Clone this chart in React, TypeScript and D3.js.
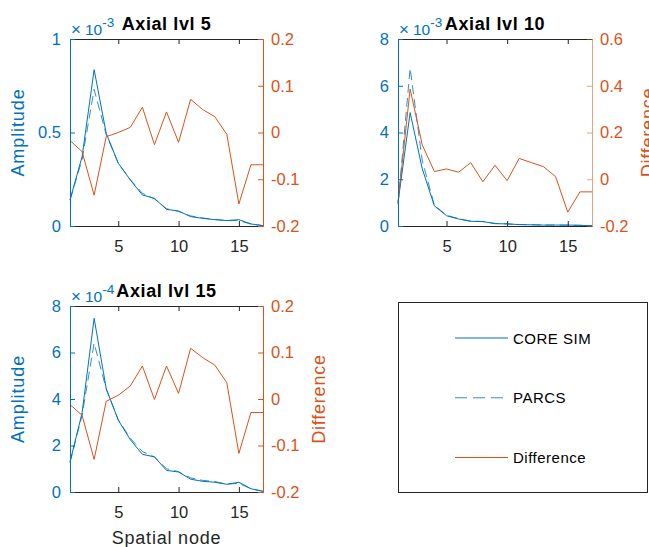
import React, { useEffect, useRef } from 'react';
import * as d3 from 'd3';

// spatial nodes along x
const nodes = [1, 2, 3, 4, 5, 6, 7, 8, 9, 10, 11, 12, 13, 14, 15, 16, 17];
const xTicks = [5, 10, 15];

// axial level 5 (amplitude in units of 1e-3)
const coreSim5 = [0.14, 0.37, 0.836, 0.496, 0.336, 0.246, 0.166, 0.148, 0.089, 0.08, 0.05, 0.041, 0.034, 0.029, 0.034, 0.011, 0.002];
const parcs5 = [0.138, 0.355, 0.73, 0.49, 0.335, 0.248, 0.175, 0.145, 0.093, 0.078, 0.054, 0.043, 0.035, 0.029, 0.029, 0.01, 0.002];
const diff5 = [-0.017, -0.041, -0.134, -0.009, 0.0, 0.011, 0.054, -0.026, 0.044, -0.021, 0.071, 0.049, 0.034, -0.004, -0.153, -0.069, -0.069];

// axial level 10 (amplitude in units of 1e-3)
const coreSim10 = [1.0, 4.85, 2.45, 0.86, 0.44, 0.3, 0.2, 0.19, 0.1, 0.09, 0.06, 0.05, 0.04, 0.04, 0.04, 0.03, 0.01];
const parcs10 = [0.92, 6.75, 2.8, 0.89, 0.46, 0.31, 0.21, 0.19, 0.11, 0.09, 0.065, 0.054, 0.042, 0.04, 0.035, 0.028, 0.01];
const diff10 = [-0.1, 0.386, 0.147, 0.033, 0.044, 0.03, 0.071, -0.011, 0.06, -0.006, 0.089, 0.071, 0.054, 0.011, -0.141, -0.054, -0.054];

// axial level 15 (amplitude in units of 1e-4)
const coreSim15 = [1.29, 3.4, 7.47, 4.45, 3.09, 2.25, 1.62, 1.51, 0.93, 0.86, 0.55, 0.46, 0.42, 0.33, 0.42, 0.14, 0.03];
const parcs15 = [1.27, 3.3, 6.4, 4.43, 3.11, 2.31, 1.74, 1.51, 1.0, 0.87, 0.61, 0.5, 0.45, 0.34, 0.37, 0.14, 0.03];
const diff15 = [-0.012, -0.035, -0.13, -0.005, 0.008, 0.028, 0.071, -0.001, 0.071, 0.012, 0.109, 0.089, 0.073, 0.035, -0.117, -0.029, -0.029];

const ampTicks5 = [0, 0.5, 1];
const ampTicks10 = [0, 2, 4, 6, 8];
const ampTicks15 = [0, 2, 4, 6, 8];
const diffTicks5 = [-0.2, -0.1, 0, 0.1, 0.2];
const diffTicks10 = [-0.2, 0, 0.2, 0.4, 0.6];
const diffTicks15 = [-0.2, -0.1, 0, 0.1, 0.2];

const legendLabels = ['CORE SIM', 'PARCS', 'Difference'];

const BLUE = '#0072BD';
const ORANGE = '#D95319';
const DARK = '#262626';
const FONT = '"Liberation Sans", Arial, sans-serif';

const panels = [
  { title: 'Axial lvl 5', exp: '-3', core: coreSim5, parcs: parcs5, diff: diff5, ampTicks: ampTicks5, diffTicks: diffTicks5,
    left: 70, right: 263, top: 39, bottom: 226, ampLabel: true, diffLabel: false, xLabel: false, fadeRight: false },
  { title: 'Axial lvl 10', exp: '-3', core: coreSim10, parcs: parcs10, diff: diff10, ampTicks: ampTicks10, diffTicks: diffTicks10,
    left: 398, right: 592, top: 39, bottom: 226, ampLabel: false, diffLabel: true, xLabel: false, fadeRight: true },
  { title: 'Axial lvl 15', exp: '-4', core: coreSim15, parcs: parcs15, diff: diff15, ampTicks: ampTicks15, diffTicks: diffTicks15,
    left: 70, right: 263, top: 306, bottom: 492, ampLabel: true, diffLabel: true, xLabel: true, fadeRight: false },
];

const fmt = (d) => (d === 0 ? '0' : String(d));

function drawPanel(svg, p) {
  const x = d3.scaleLinear().domain([1, 17]).range([p.left, p.right]);
  const yL = d3.scaleLinear().domain([0, p.ampTicks[p.ampTicks.length - 1]]).range([p.bottom, p.top]);
  const yR = d3.scaleLinear().domain([p.diffTicks[0], p.diffTicks[p.diffTicks.length - 1]]).range([p.bottom, p.top]);

  const g = svg.append('g');

  const ampLine = (vals) => d3.line().x((d, i) => x(nodes[i])).y((d) => yL(d))(vals);
  const diffLine = d3.line().x((d, i) => x(nodes[i])).y((d) => yR(d));

  g.append('path').attr('d', ampLine(p.core)).attr('fill', 'none').attr('stroke', BLUE).attr('stroke-width', 1);
  g.append('path').attr('d', ampLine(p.parcs)).attr('fill', 'none').attr('stroke', BLUE).attr('stroke-width', 1)
    .attr('stroke-dasharray', '9,5').attr('stroke-opacity', 0.8);
  g.append('path').attr('d', diffLine(p.diff)).attr('fill', 'none').attr('stroke', ORANGE).attr('stroke-width', 1);

  const style = (sel, color) => {
    sel.attr('font-family', FONT).attr('font-size', 16.5).attr('color', color);
    sel.selectAll('line, path').attr('stroke-width', 1);
  };

  g.append('g').attr('transform', `translate(0,${p.bottom})`)
    .call(d3.axisBottom(x).tickValues(xTicks).tickSizeInner(-5).tickSizeOuter(0).tickPadding(14))
    .call((s) => style(s, DARK));
  g.append('g').attr('transform', `translate(0,${p.top})`)
    .call(d3.axisTop(x).tickValues(xTicks).tickSizeInner(-5).tickSizeOuter(0).tickFormat(() => ''))
    .call((s) => style(s, DARK));
  g.append('g').attr('transform', `translate(${p.left},0)`)
    .call(d3.axisLeft(yL).tickValues(p.ampTicks).tickSizeInner(-5).tickSizeOuter(0).tickPadding(9).tickFormat(fmt))
    .call((s) => style(s, BLUE));
  const rAxis = g.append('g').attr('transform', `translate(${p.right},0)`)
    .call(d3.axisRight(yR).tickValues(p.diffTicks).tickSizeInner(-5).tickSizeOuter(0).tickPadding(8).tickFormat(fmt))
    .call((s) => style(s, ORANGE));
  if (p.fadeRight) rAxis.selectAll('line, path').attr('stroke-opacity', 0.55);

  // exponent
  const ex = g.append('text').attr('font-family', FONT).attr('fill', BLUE);
  ex.append('tspan').attr('x', p.left + 1).attr('y', p.top - 4).attr('font-size', 17).text('×');
  ex.append('tspan').attr('x', p.left + 15).attr('font-size', 15.5).text('10');
  ex.append('tspan').attr('dy', -8).attr('font-size', 13.5).text(p.exp);

  g.append('text').attr('x', (p.left + p.right) / 2).attr('y', p.top - 9)
    .attr('text-anchor', 'middle').attr('font-family', FONT).attr('font-size', 18).attr('font-weight', 'bold')
    .attr('letter-spacing', 0.6).attr('fill', '#000').text(p.title);

  const midY = (p.top + p.bottom) / 2;
  if (p.ampLabel) {
    g.append('text').attr('transform', `translate(${p.left - 46},${midY}) rotate(-90)`)
      .attr('text-anchor', 'middle').attr('font-family', FONT).attr('font-size', 18).attr('letter-spacing', 0.9)
      .attr('fill', BLUE).text('Amplitude');
  }
  if (p.diffLabel) {
    g.append('text').attr('transform', `translate(${p.right + 62},${midY}) rotate(-90)`)
      .attr('text-anchor', 'middle').attr('font-family', FONT).attr('font-size', 18).attr('letter-spacing', 0.8)
      .attr('fill', ORANGE).text('Difference');
  }
  if (p.xLabel) {
    g.append('text').attr('x', (p.left + p.right) / 2).attr('y', p.bottom + 52)
      .attr('text-anchor', 'middle').attr('font-family', FONT).attr('font-size', 18).attr('letter-spacing', 0.8)
      .attr('fill', DARK).text('Spatial node');
  }
}

function drawLegend(svg) {
  const g = svg.append('g');
  g.append('rect').attr('x', 398.5).attr('y', 302.5).attr('width', 249).attr('height', 190)
    .attr('fill', '#fff').attr('stroke', DARK).attr('stroke-width', 1);
  const rowY = d3.scalePoint().domain(legendLabels).range([338, 457.5]);
  const styles = [
    { color: BLUE, dash: null },
    { color: BLUE, dash: '12,6' },
    { color: ORANGE, dash: null },
  ];
  legendLabels.forEach((lab, i) => {
    const y = rowY(lab);
    const ln = g.append('line').attr('x1', 455).attr('x2', 508).attr('y1', y).attr('y2', y)
      .attr('stroke', styles[i].color).attr('stroke-width', 1);
    if (styles[i].dash) ln.attr('stroke-dasharray', styles[i].dash).attr('stroke-opacity', 0.8);
    g.append('text').attr('x', 513).attr('y', y + 5.5).attr('font-family', FONT).attr('font-size', 15)
      .attr('letter-spacing', 0.5).attr('fill', '#000').text(lab);
  });
}

const App = () => {
  const svgRef = useRef(null);

  useEffect(() => {
    const svg = d3.select(svgRef.current);
    svg.selectAll('*').remove();
    panels.forEach((p) => drawPanel(svg, p));
    drawLegend(svg);
  }, []);

  return (
    <svg ref={svgRef} width={649} height={547}
      style={{ position: 'absolute', left: 0, top: 0, background: '#fff' }} />
  );
};

export default App;
